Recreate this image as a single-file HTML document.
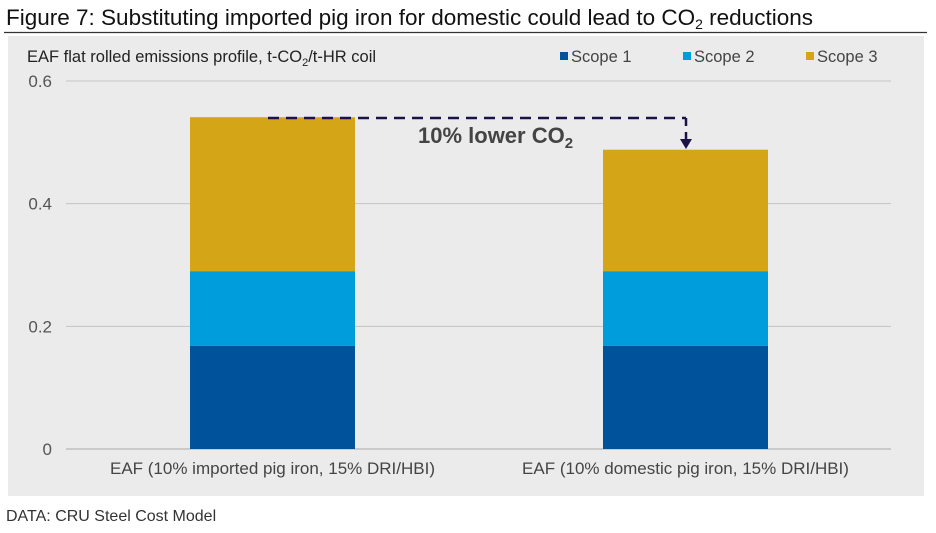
<!DOCTYPE html>
<html><head><meta charset="utf-8"><style>
body{margin:0;width:936px;height:528px;background:#fff;overflow:hidden;font-family:"Liberation Sans",Arial,sans-serif}
</style></head><body>
<svg width="936" height="528" xmlns="http://www.w3.org/2000/svg" font-family="Liberation Sans, Arial, sans-serif">
<text x="6" y="25" font-size="22.5" fill="#111">Figure 7: Substituting imported pig iron for domestic could lead to CO<tspan font-size="14" dy="4">2</tspan><tspan dy="-4"> reductions</tspan></text>
<line x1="4" y1="32.5" x2="927" y2="32.5" stroke="#333" stroke-width="1.3"/>
<rect x="8" y="36" width="916" height="460" fill="#ebebeb"/>
<text x="27" y="62" font-size="16.5" fill="#222">EAF flat rolled emissions profile, t-CO<tspan font-size="11" dy="4">2</tspan><tspan dy="-4">/t-HR coil</tspan></text>
<g id="legend" font-size="16.5" fill="#444"></g>
<g id="grid"></g><g id="bars"></g><g id="xl" font-size="17" fill="#444"></g>
<line x1="268" y1="118" x2="686" y2="118" stroke="#1a1446" stroke-width="2.5" stroke-dasharray="11,7"/>
<line x1="686" y1="118" x2="686" y2="140" stroke="#1a1446" stroke-width="2.5" stroke-dasharray="8,6"/>
<polygon points="680,139 692,139 686,149" fill="#1a1446"/>
<text x="418" y="143" font-size="22" font-weight="bold" fill="#444">10% lower CO<tspan font-size="15" dy="5">2</tspan></text>
<text x="6" y="521" font-size="16" fill="#333">DATA: CRU Steel Cost Model</text>
</svg>
<script>
const categories=["EAF (10% imported pig iron, 15% DRI/HBI)","EAF (10% domestic pig iron, 15% DRI/HBI)"];
const scope1=[0.168,0.168];
const scope2=[0.122,0.122];
const scope3=[0.251,0.198];
const ticks=[0,0.2,0.4,0.6];
const seriesNames=["Scope 1","Scope 2","Scope 3"];
const colors=["#00529b","#009ddc","#d4a517"];
const NS="http://www.w3.org/2000/svg";
const y=v=>449-v*613.3;
const xc=i=>272.5+i*413;
function mk(t,a,p){const e=document.createElementNS(NS,t);for(const k in a)e.setAttribute(k,a[k]);document.getElementById(p).appendChild(e);return e;}
ticks.forEach(t=>{
 const l=mk('line',{x1:66,x2:891,y1:y(t),y2:y(t),stroke:t===0?'#aaa':'#c4c4c4','stroke-width':1},'grid');
 
 
 const tx=mk('text',{x:52,y:y(t)+6,'text-anchor':'end','font-size':17,fill:'#555'},'grid');
 tx.textContent=t===0?'0':t.toFixed(1);
 
 
});
[scope1,scope2,scope3].forEach((s,k)=>{
 s.forEach((v,i)=>{
  let base=0;for(let j=0;j<k;j++)base+=[scope1,scope2,scope3][j][i];
  const r=mk('rect',{x:xc(i)-82.5,width:165,y:y(base+v),height:y(base)-y(base+v),fill:colors[k]},'bars');
  
  
 });
});
categories.forEach((c,i)=>{
 const t=mk('text',{x:xc(i),y:474,'text-anchor':'middle'},'xl');
 t.textContent=c;
 
 
});
const lx=[560,683,806];
seriesNames.forEach((n,k)=>{
 const r=mk('rect',{x:lx[k],y:52,width:8,height:8,fill:colors[k]},'legend');
 
 
 const t=mk('text',{x:lx[k]+11,y:62},'legend');
 t.textContent=n;
 
 
});
</script>
</body></html>
